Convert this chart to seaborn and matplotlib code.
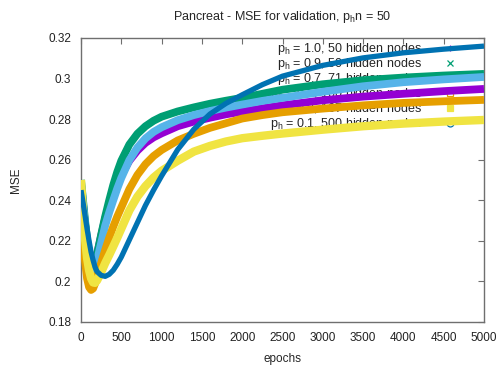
import numpy as np
import pandas as pd
import matplotlib
matplotlib.use("Agg")
import matplotlib.pyplot as plt
from matplotlib.lines import Line2D
import seaborn as sns

# ---- data ----
epochs = [0, 25, 50, 75, 100, 125, 150, 175, 200, 250, 300, 350, 400, 450, 500,
          600, 700, 800, 900, 1000, 1200, 1400, 1600, 1800, 2000, 2250, 2500,
          3000, 3500, 4000, 4500, 5000]

mse_p10 = [0.248, 0.238, 0.228, 0.219, 0.2115, 0.2075, 0.207, 0.209, 0.2135, 0.2225, 0.231,
           0.2375, 0.243, 0.248, 0.2525, 0.2595, 0.2645, 0.2683, 0.271, 0.273, 0.2765,
           0.2788, 0.2807, 0.2824, 0.2837, 0.2853, 0.2868, 0.2893, 0.2911, 0.2925, 0.2938, 0.2949]
mse_p09 = [0.250, 0.240, 0.230, 0.221, 0.213, 0.2085, 0.2075, 0.2095, 0.2135, 0.223, 0.232,
           0.240, 0.2475, 0.254, 0.2595, 0.2675, 0.2728, 0.2765, 0.2792, 0.2812, 0.2838,
           0.2858, 0.2876, 0.2891, 0.2905, 0.2925, 0.2945, 0.2972, 0.2992, 0.3005, 0.3015, 0.3023]
mse_p07 = [0.248, 0.238, 0.228, 0.219, 0.2115, 0.207, 0.2058, 0.207, 0.2105, 0.219, 0.2275,
           0.234, 0.240, 0.2458, 0.251, 0.2598, 0.266, 0.2705, 0.2737, 0.276, 0.2795,
           0.282, 0.284, 0.2857, 0.2872, 0.289, 0.2905, 0.2935, 0.2962, 0.2982, 0.2996, 0.3008]
mse_p05 = [0.237, 0.222, 0.210, 0.2015, 0.1972, 0.1958, 0.1965, 0.199, 0.2025, 0.209, 0.2155,
           0.2215, 0.227, 0.232, 0.2365, 0.2455, 0.2525, 0.2578, 0.2618, 0.2648, 0.2695,
           0.2728, 0.2757, 0.278, 0.2803, 0.282, 0.2834, 0.2852, 0.2868, 0.288, 0.2888, 0.2895]
mse_p03 = [0.250, 0.234, 0.221, 0.2115, 0.2055, 0.2015, 0.1995, 0.1993, 0.2005, 0.2045, 0.209,
           0.213, 0.2172, 0.2215, 0.226, 0.235, 0.2418, 0.247, 0.2512, 0.2545, 0.2595,
           0.264, 0.2668, 0.269, 0.2706, 0.2718, 0.2729, 0.2748, 0.2765, 0.2778, 0.2788, 0.2796]
mse_p01 = [0.245, 0.239, 0.2325, 0.226, 0.220, 0.2145, 0.2105, 0.207, 0.2048, 0.203, 0.2025,
           0.2035, 0.2055, 0.2085, 0.212, 0.2205, 0.229, 0.2375, 0.245, 0.252, 0.265,
           0.275, 0.2825, 0.2878, 0.292, 0.297, 0.3012, 0.3065, 0.3102, 0.3127, 0.3145, 0.316]

labels = ["1.0, 50", "0.9, 50", "0.7, 71", "0.5, 100", "0.3, 167", "0.1, 500"]
series = [mse_p10, mse_p09, mse_p07, mse_p05, mse_p03, mse_p01]
colors = ["#9400D3", "#009E73", "#56B4E9", "#E69F00", "#F0E442", "#0072B2"]
widths = [5.6, 5.6, 5.6, 5.6, 6.0, 3.8]
markers = [dict(marker="+", mfc="none"), dict(marker="x", mfc="none"),
           dict(marker="*", mfc="none"), dict(marker="s", mfc="none"),
           dict(marker="s"), dict(marker="o", mfc="none")]

x_ticks = list(range(0, 5001, 500))
y_ticks = [0.18, 0.20, 0.22, 0.24, 0.26, 0.28, 0.30, 0.32]
y_tick_labels = ["0.18", "0.2", "0.22", "0.24", "0.26", "0.28", "0.3", "0.32"]

# ---- style ----
sns.set_style("white")
plt.rcParams["font.family"] = ["Liberation Sans", "DejaVu Sans"]
plt.rcParams["mathtext.fontset"] = "custom"
plt.rcParams["mathtext.rm"] = "Liberation Sans"
plt.rcParams["font.size"] = 8.5

fig = plt.figure(figsize=(4.97, 3.70), dpi=100)
ax = fig.add_axes([81 / 497, 1 - 322 / 370, 403 / 497, 284 / 370])

for lab, vals, col, lw in zip(labels, series, colors, widths):
    df = pd.DataFrame({"epochs": epochs, "MSE": vals})
    sns.lineplot(data=df, x="epochs", y="MSE", color=col, linewidth=lw,
                 ax=ax, legend=False, zorder=3, solid_capstyle="butt",
                 solid_joinstyle="round")

ax.set_xlim(0, 5000)
ax.set_ylim(0.18, 0.32)
ax.set_xticks(x_ticks)
ax.set_xticklabels([str(t) for t in x_ticks])
ax.set_yticks(y_ticks)
ax.set_yticklabels(y_tick_labels)

frame_col = "#6f6f6f"
for s in ax.spines.values():
    s.set_color(frame_col)
    s.set_linewidth(1.0)
ax.tick_params(direction="in", length=4, width=0.8, color=frame_col,
               top=True, right=True, labelsize=8.5, labelcolor="#222222", pad=7)

ax.set_xlabel("epochs", fontsize=8.5, labelpad=7)
ax.set_ylabel("MSE", fontsize=8.5, labelpad=19)
ax.set_title("Pancreat - MSE for validation, p$\\mathregular{_h}$n = 50", fontsize=9, pad=13)

handles = []
for lab, col, mk in zip(labels, colors, markers):
    h = Line2D([], [], linestyle="none", color=col, markeredgecolor=col,
               markersize=5, markeredgewidth=0.9, **mk)
    handles.append(h)
leg_labels = ["p$\\mathregular{_h}$ = %s hidden nodes" % l for l in labels]
leg = ax.legend(handles, leg_labels, loc="upper right", bbox_to_anchor=(0.93, 0.988),
                frameon=False, markerfirst=False, handlelength=1.0, handletextpad=1.7,
                labelspacing=-0.08, borderpad=0.0, borderaxespad=0.0, fontsize=9)
leg.set_zorder(1)

fig.savefig("out.png", dpi=100)
